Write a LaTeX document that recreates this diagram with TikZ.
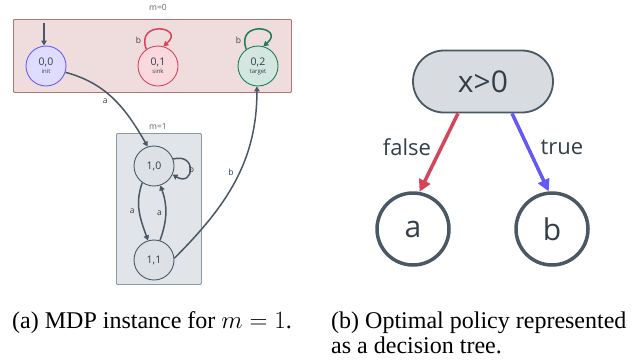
\documentclass[tikz,border=0pt]{standalone}
\usepackage{fontspec}
\setmainfont{Liberation Serif}
\newfontfamily\dinfont{Open Sans}
\usetikzlibrary{arrows.meta,shapes.misc}
\definecolor{slate}{RGB}{74,88,101}
\definecolor{txt}{RGB}{52,62,72}
\definecolor{pinkfill}{RGB}{239,221,222}
\definecolor{pinkdraw}{RGB}{178,116,120}
\definecolor{grayfill}{RGB}{225,228,232}
\definecolor{graydraw}{RGB}{140,152,163}
\definecolor{initfill}{RGB}{222,220,255}
\definecolor{initdraw}{RGB}{108,92,246}
\definecolor{sinkfill}{RGB}{249,217,222}
\definecolor{sinkdraw}{RGB}{214,68,89}
\definecolor{tgtfill}{RGB}{211,230,223}
\definecolor{tgtdraw}{RGB}{30,123,95}
\definecolor{nodefill}{RGB}{221,224,228}
\definecolor{decfill}{RGB}{216,220,224}
\definecolor{falsecol}{RGB}{214,68,89}
\definecolor{truecol}{RGB}{102,88,246}
\begin{document}
\begin{tikzpicture}[x=1pt,y=1pt,
  every node/.style={font=\dinfont, text=txt},
  st/.style={circle, minimum size=40pt, inner sep=0pt, line width=0.9pt, align=center,
    font=\dinfont\fontsize{10.5}{11}\selectfont},
  ed/.style={draw=slate, line width=1.5pt, -{Triangle[length=5pt,width=5.5pt]}},
  lbl/.style={font=\dinfont\fontsize{8.5}{9}\selectfont, inner sep=1pt},
  boxlbl/.style={font=\dinfont\fontsize{8.5}{9}\selectfont, text=txt!80},
  leaf/.style={circle, draw=slate, fill=white, line width=3.5pt, minimum size=72pt, inner sep=0pt,
    font=\dinfont\fontsize{30}{30}\selectfont},
  dedge/.style={line width=3.5pt, -{Triangle[length=12pt,width=12pt]}},
  caption/.style={font=\rmfamily\fontsize{24}{25}\selectfont, text=black, inner sep=0pt},
]
\useasboundingbox (0,0) rectangle (636,-362);

% m=0 box
\node (box0) [draw=pinkdraw, fill=pinkfill, line width=0.8pt, rounded corners=1pt,
  minimum width=278pt, minimum height=73pt, anchor=north west] at (13,-19) {};
\node (lab0) [boxlbl] at (158,-7) {m=0};

% m=1 box
\node (box1) [draw=graydraw, fill=grayfill, line width=0.8pt, rounded corners=1pt,
  minimum width=85pt, minimum height=151pt, anchor=north west] at (116,-133) {};
\node (lab1) [boxlbl] at (158,-126) {m=1};

% states
\node (s00) [st, fill=initfill, draw=initdraw] at (46,-66) {0,0\\[-3pt]{\fontsize{6}{6}\selectfont init}};
\node (s01) [st, fill=sinkfill, draw=sinkdraw] at (158,-66) {0,1\\[-3pt]{\fontsize{6}{6}\selectfont sink}};
\node (s02) [st, fill=tgtfill, draw=tgtdraw] at (258,-66) {0,2\\[-3pt]{\fontsize{6}{6}\selectfont target}};
\node (s10) [st, fill=nodefill, draw=slate] at (154,-166) {1,0};
\node (s11) [st, fill=nodefill, draw=slate] at (154,-260) {1,1};

% initial arrow
\coordinate (init) at (44,-23);
\draw[ed] (init) -- (init |- s00.north);

% self loops
\draw[ed, draw=sinkdraw] (s01.125) .. controls +(110:32) and +(40:30) .. (s01.75)
  node[lbl, pos=0.12, left=2pt] {b};
\draw[ed, draw=tgtdraw] (s02.125) .. controls +(110:32) and +(40:30) .. (s02.75)
  node[lbl, pos=0.12, left=2pt] {b};
\draw[ed] (s10.20) .. controls +(15:25) and +(-30:25) .. (s10.-25)
  node[lbl, pos=0.5, right=-3pt] {b};

% transitions
\draw[ed] (s00.-18) to[out=-15, in=120] node[lbl, pos=0.45, below left=1pt] {a} (s10.108);
\draw[ed] (s10.235) to[out=250, in=110] node[lbl, pos=0.5, left=3pt] {a} (s11.107);
\draw[ed] (s11.73) to[out=70, in=-70] node[lbl, pos=0.5, left=2pt] {a} (s10.-72);
\draw[ed] (s11.5) to[out=45, in=-90] node[lbl, pos=0.55, left=4pt] {b} (s02.-93);

% decision tree
\node (dec) [rounded rectangle, draw=slate, fill=decfill, line width=1.8pt,
  minimum width=140pt, minimum height=62pt, inner sep=0pt,
  font=\dinfont\fontsize{30}{30}\selectfont] at (483,-81.5) {x>0};
\node (na) [leaf] at (413,-229) {a};
\node (nb) [leaf] at (552,-229) {b};
\draw[dedge, draw=falsecol, fill=falsecol] ([xshift=-25pt]dec.south) -- (na.80);
\draw[dedge, draw=truecol, fill=truecol] ([xshift=29pt]dec.south) -- (nb.95);
\node (lfalse) [font=\dinfont\fontsize{22}{22}\selectfont] at (407,-147) {false};
\node (ltrue) [font=\dinfont\fontsize{22}{22}\selectfont] at (562,-147) {true};

% captions
\node (capa) [caption, anchor=base west] at (12,-328) {(a) MDP instance for $m=1$.};
\node (capb) [caption, anchor=base west] at (331,-328) {(b) Optimal policy represented};
\node (capb2) [caption, anchor=base west] at (331,-353) {as a decision tree.};
\end{tikzpicture}
\end{document}
